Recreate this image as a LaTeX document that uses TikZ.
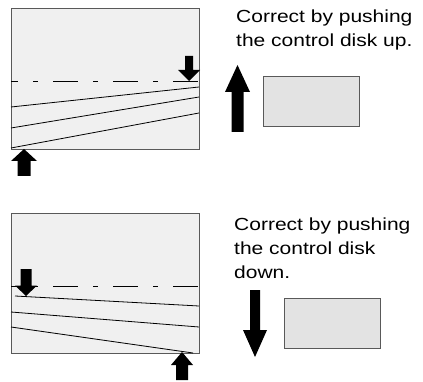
\documentclass[tikz,border=0pt]{standalone}
\usepackage{fontspec}
\newfontfamily\notefont[FakeStretch=1.2]{Liberation Sans}
\usetikzlibrary{positioning}

\begin{document}
\begin{tikzpicture}[x=1pt,y=-1pt]
% ---- styles ----
\tikzstyle{panel}=[draw=black!65,fill=black!6,line width=0.8pt]
\tikzstyle{disk}=[draw=black!65,fill=black!11,line width=0.8pt]
\tikzstyle{axisline}=[line width=0.8pt,
  dash pattern=on 25pt off 15pt on 5pt off 15pt,dash phase=17.7pt]
\tikzstyle{ray}=[line width=0.8pt]
\tikzstyle{note}=[font=\notefont\fontsize{17.5}{23.8}\selectfont,
  align=left,anchor=north west,inner sep=0pt]

\useasboundingbox (0,0) rectangle (423,382);

% ---- upper case: push up ----
\draw[panel] (11,8) rectangle (199,149);
\draw[axisline] (11,81) -- (199,81);
\draw[ray] (11,107) -- (199,87);
\draw[ray] (11,128) -- (199,97);
\draw[ray] (11,148) -- (199,113);

% arrow onto the axis (right)
\fill (189,81) -- (178,70) -- (185,70) -- (185,56) -- (193,56)
  -- (193,70) -- (200,70) -- cycle;
% arrow under the corner (left)
\fill (24,149) -- (37,161) -- (30.5,161) -- (30.5,176) -- (17.5,176)
  -- (17.5,161) -- (11,161) -- cycle;

\node[note] (noteup) at (236,9.8) {Correct by pushing\\the control disk up.};
\fill (237.5,65) -- (250,92) -- (243.5,92) -- (243.5,132) -- (231.5,132)
  -- (231.5,92) -- (225,92) -- cycle;
\draw[disk] (263.5,76) rectangle (359.5,126.5);

% ---- lower case: push down ----
\draw[panel] (11,213) rectangle (199,353);
\draw[axisline] (11,286) -- (199,286);
\draw[ray] (15,296) -- (199,306);
\draw[ray] (11,312) -- (199,327);
\draw[ray] (11,327) -- (193,353);

% arrow onto the axis (left)
\fill (26,296) -- (37,285.5) -- (31.5,285.5) -- (31.5,269) -- (20.5,269)
  -- (20.5,285.5) -- (15,285.5) -- cycle;
% arrow under the corner (right)
\fill (182,352) -- (193,365) -- (188,365) -- (188,380) -- (176,380)
  -- (176,365) -- (171,365) -- cycle;

\node[note] (notedown) at (234,218) {Correct by pushing\\the control disk\\down.};
\fill (255,357) -- (267,330) -- (260,330) -- (260,290) -- (250,290)
  -- (250,330) -- (243,330) -- cycle;
\draw[disk] (284,298.5) rectangle (380.5,348.5);

\end{tikzpicture}
\end{document}
